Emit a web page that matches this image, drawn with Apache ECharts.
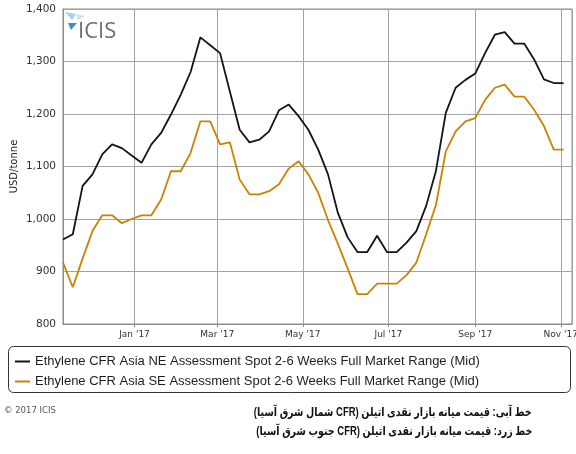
<!DOCTYPE html>
<html>
<head>
<meta charset="utf-8">
<script src="https://cdn.jsdelivr.net/npm/echarts@6/dist/echarts.min.js"></script>
<style>
html,body{margin:0;padding:0;background:#fff;}
#wrap{position:relative;width:576px;height:454px;overflow:hidden;}
#chart{position:absolute;left:0;top:0;width:576px;height:454px;}
.fa{position:absolute;right:44px;direction:rtl;text-align:right;font-family:"Liberation Sans","DejaVu Sans",sans-serif;font-weight:bold;font-size:12px;color:#111;white-space:nowrap;transform:scaleX(0.79);transform-origin:right center;}
</style>
</head>
<body>
<div id="wrap">
<div id="chart"></div>
<div class="fa" id="fa1" style="top:405px;"></div>
<div class="fa" id="fa2" style="top:424px;"></div>
</div>
<script>
const dates = [
 '2016-11-11','2016-11-18','2016-11-25','2016-12-02','2016-12-09','2016-12-16','2016-12-23','2016-12-30',
 '2017-01-06','2017-01-13','2017-01-20','2017-01-27','2017-02-03','2017-02-10','2017-02-17','2017-02-24',
 '2017-03-03','2017-03-10','2017-03-17','2017-03-24','2017-03-31','2017-04-07','2017-04-14','2017-04-21',
 '2017-04-28','2017-05-05','2017-05-12','2017-05-19','2017-05-26','2017-06-02','2017-06-09','2017-06-16',
 '2017-06-23','2017-06-30','2017-07-07','2017-07-14','2017-07-21','2017-07-28','2017-08-04','2017-08-11',
 '2017-08-18','2017-08-25','2017-09-01','2017-09-08','2017-09-15','2017-09-22','2017-09-29','2017-10-06',
 '2017-10-13','2017-10-20','2017-10-27','2017-11-03'
];
const neValues = [
 961,971,1063,1085,1123,1142,1135,1121,
 1107,1142,1164,1199,1237,1280,1346,1331,
 1316,1243,1170,1146,1151,1167,1207,1218,
 1196,1170,1132,1085,1012,965,937,937,
 968,937,937,955,977,1025,1092,1202,
 1250,1265,1277,1316,1351,1356,1334,1334,
 1304,1266,1259,1259
];
const seValues = [
 917,870,925,977,1007,1007,992,1000,
 1007,1007,1037,1091,1091,1126,1186,1186,
 1142,1146,1075,1047,1047,1053,1066,1096,
 1110,1085,1050,998,953,906,857,857,
 877,877,877,893,917,971,1027,1129,
 1167,1186,1192,1227,1250,1256,1233,1233,
 1208,1177,1132,1132
];
const seriesNames = [
 'Ethylene CFR Asia NE Assessment Spot 2-6 Weeks Full Market Range (Mid)',
 'Ethylene CFR Asia SE Assessment Spot 2-6 Weeks Full Market Range (Mid)'
];
const monthNames = ['Jan','Feb','Mar','Apr','May','Jun','Jul','Aug','Sep','Oct','Nov','Dec'];
const yAxisTitle = 'USD/tonne';
const copyrightText = '\u00A9 2017 ICIS';
const logoText = 'ICIS';
const persianLines = [
 'خط آبی: قیمت میانه بازار نقدی اتیلن (CFR شمال شرق آسیا)',
 'خط زرد: قیمت میانه بازار نقدی اتیلن (CFR جنوب شرق آسیا)'
];
const colors = ['#111418', '#cc8200'];

document.getElementById('fa1').textContent = persianLines[0];
document.getElementById('fa2').textContent = persianLines[1];

const chart = echarts.init(document.getElementById('chart'), null, {renderer:'canvas'});
const DAY = 86400000;
const option = {
  animation: false,
  backgroundColor: '#fff',
  grid: {left: 63, top: 9, right: 4, bottom: 130, show: true, borderColor: '#8c8c8c', borderWidth: 1, containLabel: false, outerBoundsMode: 'none'},
  legend: {
    orient: 'vertical', left: 10, top: 350, itemGap: 7,
    icon: 'rect', itemWidth: 15, itemHeight: 2,
    textStyle: {fontFamily: 'Liberation Sans', fontSize: 13, color: '#1e1e1e'},
    data: seriesNames
  },
  xAxis: {
    type: 'time',
    min: '2016-11-11', max: '2017-11-09',
    minInterval: 62*DAY, maxInterval: 62*DAY,
    axisLine: {show: true, lineStyle: {color: '#8c8c8c', width: 1}},
    axisTick: {show: true, length: 3, lineStyle: {color: '#8c8c8c'}},
    splitLine: {show: true, lineStyle: {color: '#a3a3a3', width: 1}},
    axisLabel: {
      fontFamily: 'DejaVu Sans', fontSize: 9, color: '#333', margin: 6, hideOverlap: false,
      showMinLabel: false, showMaxLabel: false,
      formatter: function (v) {
        const d = new Date(v);
        return monthNames[d.getMonth()] + " '" + String(d.getFullYear()).slice(2);
      },
      rich: {}
    }
  },
  yAxis: {
    type: 'value', min: 800, max: 1400, interval: 100,
    name: yAxisTitle, nameLocation: 'middle', nameGap: 44, nameRotate: 90, nameMoveOverlap: false,
    nameTextStyle: {fontFamily: 'DejaVu Sans', fontSize: 10, color: '#222'},
    axisLine: {show: true, lineStyle: {color: '#8c8c8c', width: 1}},
    axisTick: {show: false},
    splitLine: {show: true, lineStyle: {color: '#a3a3a3', width: 1}},
    axisLabel: {
      fontFamily: 'DejaVu Sans', fontSize: 10.5, color: '#333', margin: 7,
      formatter: function (v) { return v.toLocaleString('en-US'); }
    }
  },
  graphic: [
    {type: 'rect', shape: {x: 8.5, y: 346.5, width: 562, height: 46, r: 5}, style: {fill: 'none', stroke: '#333', lineWidth: 1}, z: 0},
    {type: 'polygon', shape: {points: [[65,12],[76,14],[72,20]]}, style: {fill: '#a9cde2'}, z: 10},
    {type: 'polygon', shape: {points: [[76,14],[85,16],[78,20]]}, style: {fill: '#cfe3ee'}, z: 10},
    {type: 'polygon', shape: {points: [[68,23],[77,23],[71,30]]}, style: {fill: '#3b8fc6'}, z: 10},
    {type: 'text', left: 78, top: 21, style: {text: logoText, fontFamily: 'Open Sans', fontSize: 22, fill: '#6e6e6e'}, z: 10},
    {type: 'text', left: 4, top: 406, style: {text: copyrightText, fontFamily: 'DejaVu Sans', fontSize: 8.5, fill: '#555'}, z: 10}
  ],
  series: [
    {name: seriesNames[0], type: 'line', data: dates.map((d,i)=>[d, neValues[i]]), symbol: 'none', showSymbol: false,
     color: colors[0], lineStyle: {width: 1.8, color: colors[0]}, z: 3},
    {name: seriesNames[1], type: 'line', data: dates.map((d,i)=>[d, seValues[i]]), symbol: 'none', showSymbol: false,
     color: colors[1], lineStyle: {width: 1.8, color: colors[1]}, z: 2}
  ]
};
chart.setOption(option);
</script>
</body>
</html>
